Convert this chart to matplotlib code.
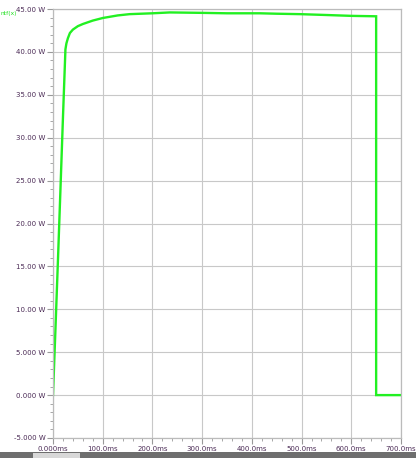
import matplotlib
matplotlib.use("Agg")
import matplotlib.pyplot as plt
from matplotlib.ticker import MultipleLocator, FuncFormatter
from matplotlib.patches import Rectangle

# data (time in ms, power in W)
t_ms = [0, 5, 10, 15, 20, 25, 27, 30, 34, 40, 50, 60, 80, 100, 130, 154, 200, 235,
        300, 350, 416, 450, 497, 550, 600, 650, 650, 700]
power_w = [0, 7.8, 15.8, 24.0, 32.3, 40.3, 41.0, 41.6, 42.2, 42.6, 43.0, 43.25, 43.65,
           43.95, 44.25, 44.4, 44.5, 44.6, 44.55, 44.5, 44.5, 44.45, 44.4, 44.3, 44.2,
           44.15, 0, 0]
x_ticks = [0, 100, 200, 300, 400, 500, 600, 700]
y_ticks = [-5, 0, 5, 10, 15, 20, 25, 30, 35, 40, 45]
trace_label = "ntf(x)"

txt = "#4a2a55"
gridc = "#c8c8c8"

fig = plt.figure(figsize=(4.16, 4.58), dpi=100)
ax = fig.add_axes([53/416, 1-438/458, (401-53)/416, (438-9)/458])
ax.plot(t_ms, power_w, color="#22f022", lw=1.7, solid_joinstyle="miter")
ax.set_xlim(0, 700)
ax.set_ylim(-5, 45)
ax.set_xticks(x_ticks)
ax.set_yticks(y_ticks)
ax.xaxis.set_minor_locator(MultipleLocator(20))
ax.yaxis.set_minor_locator(MultipleLocator(1))

def yfmt(v, p):
    if abs(v) < 10:
        return f"{v:.3f} W"
    return f"{v:.2f} W"

def xfmt(v, p):
    if v == 0:
        return "0.000ms"
    return f"{v:.1f}ms"

ax.yaxis.set_major_formatter(FuncFormatter(yfmt))
ax.xaxis.set_major_formatter(FuncFormatter(xfmt))
ax.tick_params(axis="both", which="major", labelsize=5, colors="#999999",
               labelcolor=txt, length=4, width=0.8, pad=1.5)
ax.tick_params(axis="both", which="minor", colors="#999999", length=2.5, width=0.6)
ax.grid(True, which="major", color=gridc, lw=0.8)
for s in ax.spines.values():
    s.set_color("#bbbbbb")
    s.set_linewidth(0.9)
ax.set_axisbelow(True)

fig.text(0.5/416, 1-13/458, trace_label, color="#22e022", fontsize=4.3, va="center", ha="left")

# bottom window bar
fig.patches.append(Rectangle((0, 0), 1, 6/458, transform=fig.transFigure,
                             facecolor="#6e6e6e", edgecolor="none"))
fig.patches.append(Rectangle((33/416, 0), 47/416, 5/458, transform=fig.transFigure,
                             facecolor="#d8d8d8", edgecolor="none"))

fig.savefig("out.png", dpi=100)
